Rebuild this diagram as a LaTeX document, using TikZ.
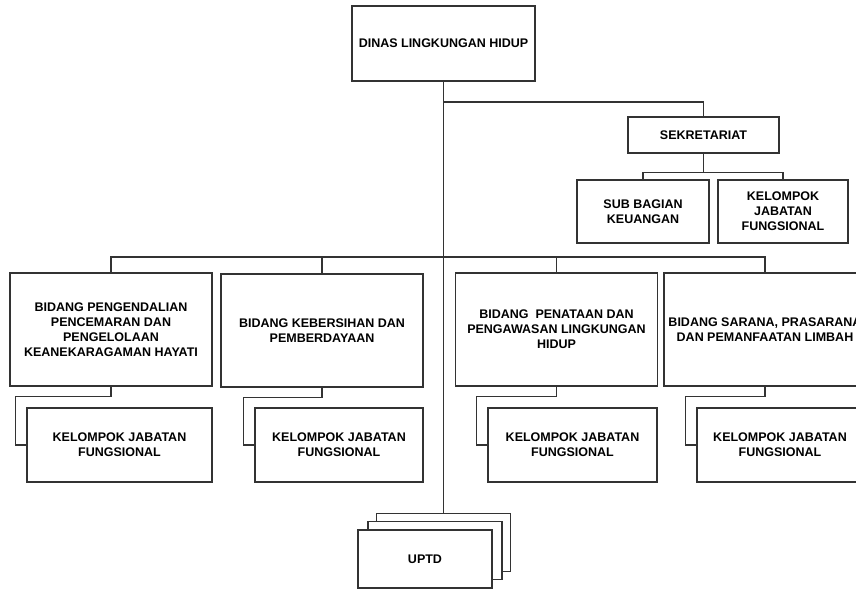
\documentclass[tikz,border=0pt]{standalone}
\usepackage{fontspec}
\setmainfont{Liberation Sans}
\usetikzlibrary{positioning}

\begin{document}
\begin{tikzpicture}[x=1pt,y=-1pt,
		box/.style={draw=black!80, line width=1.2pt, fill=white, align=center, inner sep=2pt, font=\bfseries\fontsize{12.5}{15}\selectfont},
		link/.style={draw=black!80, line width=1.2pt}]
					\pgfmathsetmacro{\BidW}{202}
					\pgfmathsetmacro{\BidH}{113}
					\pgfmathsetmacro{\KelH}{74}
					\pgfmathsetmacro{\KelStep}{10}
					\useasboundingbox (0,0) rectangle (856,590);
					\clip (0,0) rectangle (856,590);
					% TOP
					\node[box, minimum width=183pt, minimum height=75pt] (dinas) at (443.5,43.5) {DINAS LINGKUNGAN HIDUP};
					\node[box, minimum width=151pt, minimum height=36pt] (sek) at (703.5,135) {SEKRETARIAT};
					\node[box, minimum width=132pt, minimum height=63pt] (subkeu) at (643,211.5) {SUB BAGIAN\\KEUANGAN};
					\node[box, minimum width=130pt, minimum height=63pt] (kjsek) at (783,211.5) {KELOMPOK\\JABATAN\\FUNGSIONAL};
					% BIDANG
					\node[box, minimum width=\BidW pt, minimum height=\BidH pt] (bid1) at (111,329.5) {BIDANG PENGENDALIAN\\PENCEMARAN DAN\\PENGELOLAAN\\KEANEKARAGAMAN HAYATI};
					\node[box, minimum width=\BidW pt, minimum height=\BidH pt] (bid2) at (322,330.5) {BIDANG KEBERSIHAN DAN\\PEMBERDAYAAN};
					\node[box, minimum width=\BidW pt, minimum height=\BidH pt] (bid3) at (556.5,329.5) {BIDANG\ \ PENATAAN DAN\\PENGAWASAN LINGKUNGAN\\HIDUP};
					\node[box, minimum width=\BidW pt, minimum height=\BidH pt] (bid4) at (765,329.5) {BIDANG SARANA, PRASARANA\\DAN PEMANFAATAN LIMBAH};
					% KELOMPOK
					\node[box, minimum width=185pt, minimum height=\KelH pt] (kel1) at (119.5,445) {KELOMPOK JABATAN\\FUNGSIONAL};
					\node[box, minimum width=168pt, minimum height=\KelH pt] (kel2) at (339,445) {KELOMPOK JABATAN\\FUNGSIONAL};
					\node[box, minimum width=169pt, minimum height=\KelH pt] (kel3) at (572.5,445) {KELOMPOK JABATAN\\FUNGSIONAL};
					\node[box, minimum width=166pt, minimum height=\KelH pt] (kel4) at (780,445) {KELOMPOK JABATAN\\FUNGSIONAL};
					% UPTD
					\node[box, minimum width=134pt, minimum height=58pt] (uptdc) at (443.5,542.5) {};
					\node[box, minimum width=134pt, minimum height=58pt] (uptdb) at (435,550.5) {};
					\node[box, minimum width=134pt, minimum height=58pt] (uptd) at (425,559) {UPTD};
					% LINES
					\coordinate (jsek) at (443.5,102);
					\coordinate (bus) at (443.5,257);
					\draw[link] (dinas.south) -- (uptdc.north);
					\draw[link] (jsek) -| (sek.north);
					\draw[link] (sek.south) -- ++(0,19) coordinate (jsub);
					\draw[link] (subkeu.north) |- (jsub) -| (kjsek.north);
					\draw[link] (bid1.north) |- (bus) -| (bid4.north);
					\draw[link] (bid2.north) |- (bus);
					\draw[link] (bid3.north) |- (bus);
					\foreach \i in {1,...,4}
						\draw[link] (bid\i.south) -- ++(0,\KelStep) -| ([xshift=-11pt]kel\i.west) -- (kel\i.west);
				\end{tikzpicture}
\end{document}
